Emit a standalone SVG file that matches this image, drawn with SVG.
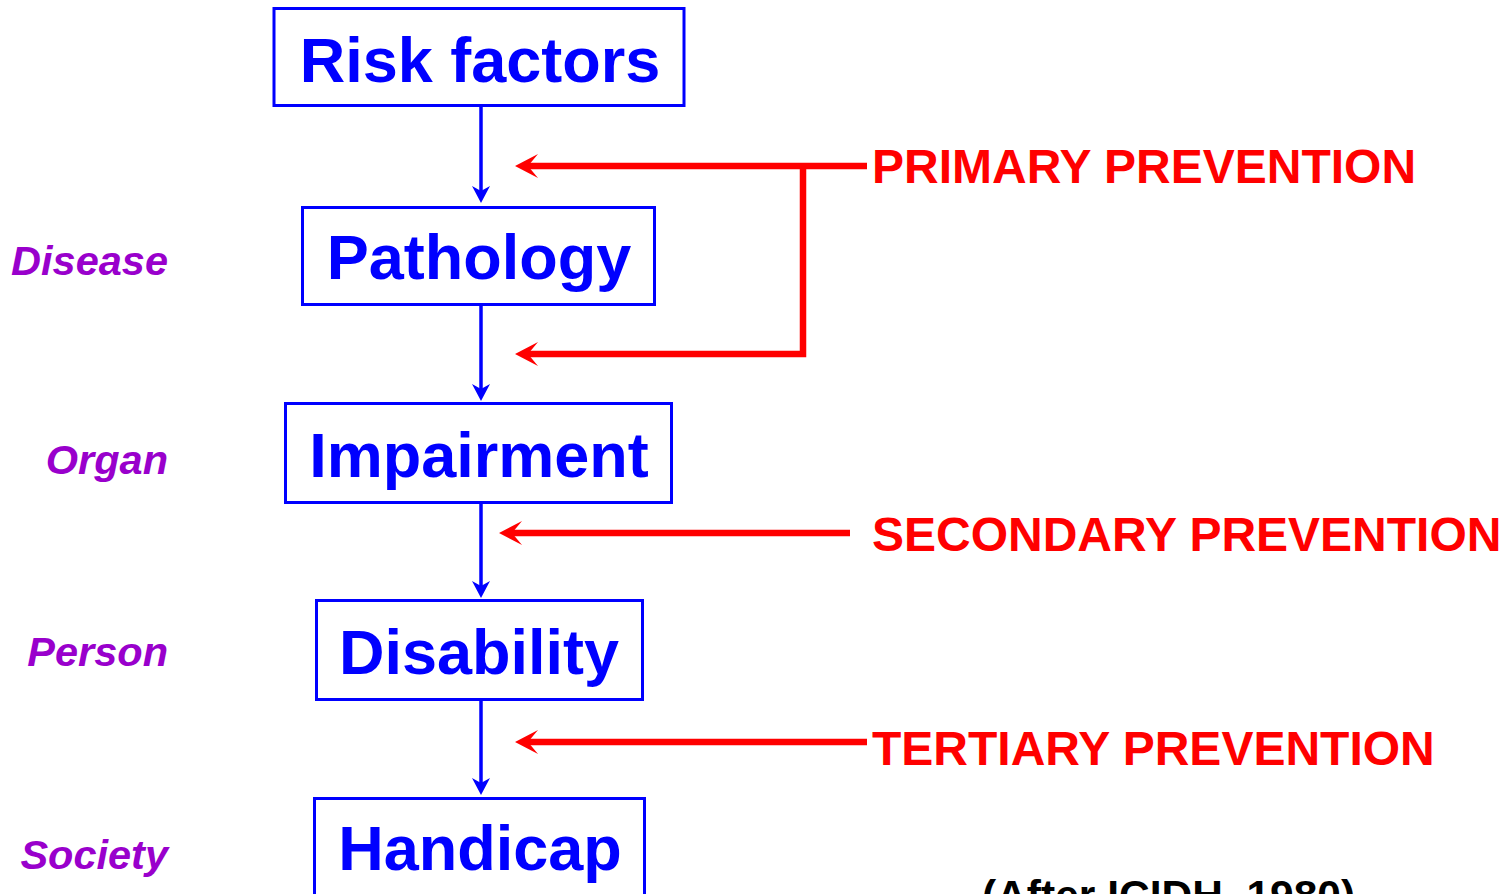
<svg xmlns="http://www.w3.org/2000/svg" width="1509" height="894" viewBox="0 0 1509 894">
<defs>
<style>
.box{fill:#fff;stroke:#0000FF;stroke-width:3}
.bt{font-family:"Liberation Sans",Arial,sans-serif;font-weight:bold;font-size:63px;fill:#0000FF;text-anchor:middle}
.lvl{font-family:"Liberation Sans",Arial,sans-serif;font-weight:bold;font-style:italic;font-size:41.5px;fill:#9900CC;text-anchor:end}
.pv{font-family:"Liberation Sans",Arial,sans-serif;font-weight:bold;font-size:48px;fill:#FF0000}
.src{font-family:"Liberation Sans",Arial,sans-serif;font-weight:bold;font-size:42.5px;fill:#000}
.bl{fill:none;stroke:#0000FF;stroke-width:3.5;marker-end:url(#ab)}
.rl{fill:none;stroke:#FF0000;stroke-width:6.5}
.ra{marker-end:url(#ar)}
</style>
<marker id="ab" markerUnits="userSpaceOnUse" viewBox="0 0 17 18" markerWidth="17" markerHeight="18" refX="5" refY="9" orient="auto">
<path d="M17,9 L0,0 L5,9 L0,18 Z" fill="#0000FF"/>
</marker>
<marker id="ar" markerUnits="userSpaceOnUse" viewBox="0 0 23 24" markerWidth="23" markerHeight="24" refX="10" refY="12" orient="auto">
<path d="M23,12 L0,0 L10,12 L0,24 Z" fill="#FF0000"/>
</marker>
</defs>
<rect width="1509" height="894" fill="#fff"/>
<g id="connectors">
<line class="bl" x1="481" y1="107" x2="481" y2="191"/>
<line class="bl" x1="481" y1="305" x2="481" y2="389"/>
<line class="bl" x1="481" y1="503" x2="481" y2="586"/>
<line class="bl" x1="481" y1="701" x2="481" y2="783"/>
<path class="rl ra" d="M867,166 L528,166"/>
<path class="rl ra" d="M803,166 L803,354 L528,354"/>
<path class="rl ra" d="M850,533 L512,533"/>
<path class="rl ra" d="M867,742 L528,742"/>
</g>
<g id="risk-factors">
<rect class="box" x="274" y="8.5" width="410" height="97"/>
<text class="bt" x="480" y="82">Risk factors</text>
</g>
<g id="pathology">
<rect class="box" x="302.5" y="207.5" width="352" height="97"/>
<text class="bt" x="479" y="279">Pathology</text>
</g>
<g id="impairment">
<rect class="box" x="285.5" y="403.5" width="386" height="99"/>
<text class="bt" x="479" y="477">Impairment</text>
</g>
<g id="disability">
<rect class="box" x="316.5" y="600.5" width="326" height="99"/>
<text class="bt" x="479" y="674">Disability</text>
</g>
<g id="handicap">
<rect class="box" x="314.5" y="798.5" width="330" height="120"/>
<text class="bt" x="480" y="870">Handicap</text>
</g>
<g id="levels">
<text class="lvl" x="168" y="275">Disease</text>
<text class="lvl" x="168" y="474">Organ</text>
<text class="lvl" x="168" y="666">Person</text>
<text class="lvl" x="168" y="869">Society</text>
</g>
<g id="prevention">
<text class="pv" x="872" y="183">PRIMARY PREVENTION</text>
<text class="pv" x="872" y="551">SECONDARY PREVENTION</text>
<text class="pv" x="872" y="765">TERTIARY PREVENTION</text>
</g>
<text class="src" x="982" y="910">(After ICIDH, 1980)</text>
</svg>
